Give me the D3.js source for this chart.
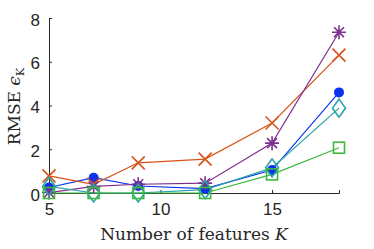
<!DOCTYPE html>
<html>
<head>
<meta charset="utf-8">
<script src="https://cdn.jsdelivr.net/npm/d3@7"></script>
<style>
  html, body { margin: 0; padding: 0; background: #fff; }
  svg { display: block; }
</style>
</head>
<body>
<script>
// feature counts on the x axis
var features = [5, 7, 9, 12, 15, 18];
var xTicks = [5, 10, 15];
var yTicks = [0, 2, 4, 6, 8];

// RMSE per method
var rmseCross    = [0.78, 0.40, 1.38, 1.55, 3.20, 6.30];
var rmseStar     = [0.02, 0.30, 0.40, 0.45, 2.28, 7.35];
var rmseCircle   = [0.25, 0.70, 0.32, 0.20, 1.05, 4.60];
var rmseDiamond  = [0.30, 0.00, 0.00, 0.15, 1.15, 3.88];
var rmseSquare   = [0.00, 0.00, 0.00, 0.00, 0.85, 2.07];

var series = [
    {values: rmseCircle,  color: '#0a33ee', marker: 'circle'},
    {values: rmseCross,   color: '#d95319', marker: 'cross'},
    {values: rmseStar,    color: '#7e2f8e', marker: 'star'},
    {values: rmseDiamond, color: '#26a3a3', marker: 'diamond'},
    {values: rmseSquare,  color: '#3cba3c', marker: 'square'}
];

var width = 374, height = 249;
var margin = {top: 18, right: 35, bottom: 56, left: 49};

var svg = d3.select(document.body).append('svg')
    .attr('width', width)
    .attr('height', height);

var x = d3.scaleLinear().domain([5, 18]).range([margin.left, width - margin.right]);
var y = d3.scaleLinear().domain([0, 8]).range([height - margin.bottom, margin.top]);

// axes (MATLAB style, ticks inward)
var xAxis = svg.append('g')
    .attr('transform', 'translate(0,' + y(0) + ')')
    .call(d3.axisBottom(x).tickValues(xTicks).tickSize(-3).tickPadding(10));
var yAxis = svg.append('g')
    .attr('transform', 'translate(' + x(5) + ',0)')
    .call(d3.axisLeft(y).tickValues(yTicks).tickSize(-3).tickPadding(9));

[xAxis, yAxis].forEach(function(g){
    g.select('.domain').attr('stroke', '#262626').attr('stroke-width', 1);
    g.selectAll('.tick line').attr('stroke', '#262626');
    g.selectAll('.tick text')
        .attr('fill', '#262626')
        .style('font-family', '"Liberation Sans", Arial, sans-serif')
        .style('font-size', '17px');
});
yAxis.selectAll('.tick text').attr('dy', '0.42em');

var line = d3.line()
    .x(function(d, i){ return x(features[i]); })
    .y(function(d){ return y(d); });

var plot = svg.append('g');

series.forEach(function(s){
    plot.append('path')
        .attr('d', line(s.values))
        .attr('fill', 'none')
        .attr('stroke', s.color)
        .attr('stroke-width', 1.2);
});

function drawMarker(g, s, px, py){
    if (s.marker === 'circle') {
        g.append('circle').attr('cx', px).attr('cy', py).attr('r', 5)
            .attr('fill', s.color);
    } else if (s.marker === 'cross') {
        var r = 6.5;
        g.append('path')
            .attr('d', 'M' + (px - r) + ',' + (py - r) + 'L' + (px + r) + ',' + (py + r) +
                       'M' + (px - r) + ',' + (py + r) + 'L' + (px + r) + ',' + (py - r))
            .attr('stroke', s.color).attr('stroke-width', 1.6);
    } else if (s.marker === 'star') {
        var r2 = 7, p = '';
        for (var k = 0; k < 4; k++) {
            var a = k * Math.PI / 4;
            p += 'M' + (px - r2 * Math.cos(a)) + ',' + (py - r2 * Math.sin(a)) +
                 'L' + (px + r2 * Math.cos(a)) + ',' + (py + r2 * Math.sin(a));
        }
        g.append('path').attr('d', p).attr('stroke', s.color).attr('stroke-width', 1.6);
    } else if (s.marker === 'diamond') {
        var hh = 9, hw = 6.5;
        g.append('path')
            .attr('d', 'M' + px + ',' + (py - hh) + 'L' + (px + hw) + ',' + py +
                       'L' + px + ',' + (py + hh) + 'L' + (px - hw) + ',' + py + 'Z')
            .attr('fill', 'none').attr('stroke', s.color).attr('stroke-width', 1.6);
    } else if (s.marker === 'square') {
        var r4 = 5.5;
        g.append('rect').attr('x', px - r4).attr('y', py - r4)
            .attr('width', 2 * r4).attr('height', 2 * r4)
            .attr('fill', 'none').attr('stroke', s.color).attr('stroke-width', 1.6);
    }
}

series.forEach(function(s){
    var g = plot.append('g');
    s.values.forEach(function(v, i){
        drawMarker(g, s, x(features[i]), y(v));
    });
});

// axis labels (LaTeX-ish serif)
svg.append('text')
    .attr('x', 194)
    .attr('y', 240)
    .attr('text-anchor', 'middle')
    .attr('fill', '#262626')
    .style('font-family', '"DejaVu Serif", "Liberation Serif", serif')
    .style('font-size', '17px')
    .html('Number of features <tspan font-style="italic">K</tspan>');

var yl = svg.append('text')
    .attr('transform', 'translate(20,' + y(3.95) + ') rotate(-90)')
    .attr('text-anchor', 'middle')
    .attr('fill', '#262626')
    .style('font-family', '"DejaVu Serif", "Liberation Serif", serif')
    .style('font-size', '17px');
yl.append('tspan').text('RMSE ');
yl.append('tspan').attr('font-style', 'italic').text('ϵ');
yl.append('tspan').attr('font-size', '11px').attr('dy', 4).text('K');
</script>
</body>
</html>
